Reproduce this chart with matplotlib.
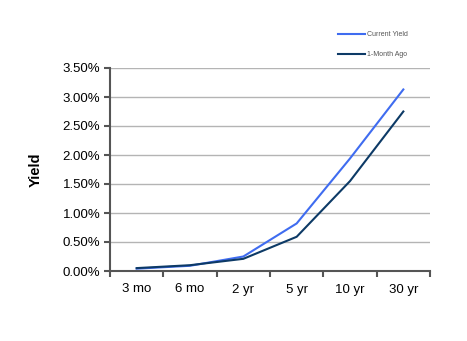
import numpy as np
import matplotlib
matplotlib.use("Agg")
import matplotlib.pyplot as plt
from matplotlib.ticker import FuncFormatter, FixedLocator

plt.rcParams['font.family'] = ['Liberation Sans', 'DejaVu Sans']

# maturities and yields (%)
maturities = ["3 mo", "6 mo", "2 yr", "5 yr", "10 yr", "30 yr"]
current_yield = [0.04, 0.09, 0.25, 0.82, 1.94, 3.13]
month_ago = [0.05, 0.10, 0.21, 0.59, 1.55, 2.75]

fig = plt.figure(figsize=(4.67, 3.41), dpi=100)
ax = fig.add_axes([110 / 467, 1 - 271 / 341, 320 / 467, 203 / 341])

x = np.arange(len(maturities))
ax.plot(x, current_yield, color="#3f6cf0", lw=1.5, label="Current Yield")
ax.plot(x, month_ago, color="#0d3a66", lw=1.5, label="1-Month Ago")

ax.set_xlim(-0.5, len(maturities) - 0.5)
ax.set_ylim(0, 3.5)
ax.set_yticks(np.arange(0, 3.51, 0.5))
ax.yaxis.set_major_formatter(FuncFormatter(lambda v, p: "%.2f%%" % v))
ax.yaxis.grid(True, color="#b4b4b4", lw=1)
ax.set_axisbelow(True)

ax.set_xticks(x)
ax.set_xticklabels(maturities)
ax.xaxis.set_minor_locator(FixedLocator(np.arange(-0.5, len(maturities), 1)))
ax.tick_params(axis="x", which="major", length=0, pad=9, labelsize=9.5)
ax.tick_params(axis="x", which="minor", length=4, width=1.5, color="#555555", direction="out")
ax.tick_params(axis="y", length=4, width=1.5, color="#555555", labelsize=9.5, pad=3)

for s in ["top", "right"]:
    ax.spines[s].set_visible(False)
for s in ["left", "bottom"]:
    ax.spines[s].set_color("#555555")
    ax.spines[s].set_linewidth(1.5)

ax.set_ylabel("Yield", fontsize=10.5, fontweight="bold", labelpad=14)

leg = fig.legend(loc="upper left", bbox_to_anchor=(332 / 467, 1 - 25 / 341),
                 frameon=False, fontsize=5, handlelength=3.9, labelspacing=1.9,
                 handletextpad=0.3, labelcolor="#555555")

fig.savefig("out.png", dpi=100)
